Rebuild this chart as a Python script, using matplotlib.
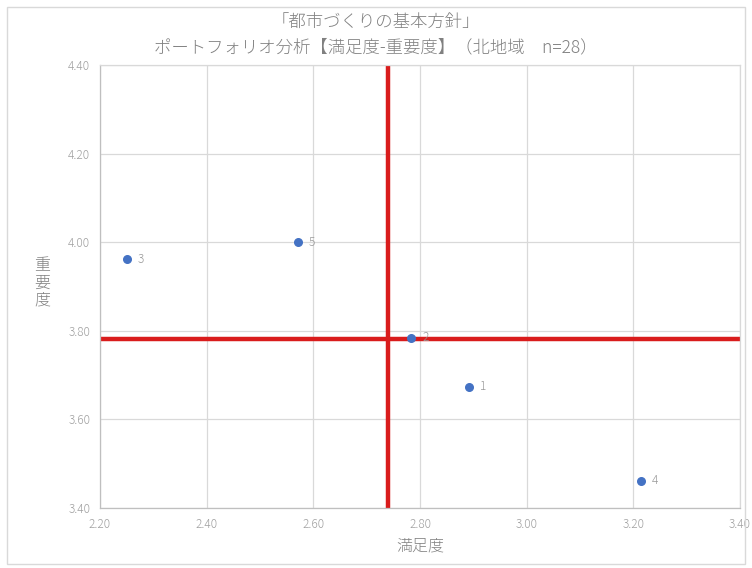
import matplotlib.pyplot as plt
from matplotlib.patches import Rectangle

plt.rcParams['font.family'] = ['Noto Sans CJK JP', 'DejaVu Sans']

# data
labels = ['1', '2', '3', '4', '5']
satisfaction = [2.892, 2.784, 2.25, 3.214, 2.571]
importance = [3.674, 3.784, 3.961, 3.461, 4.00]
mean_satisfaction = 2.74
mean_importance = 3.781

x_ticks = [2.20, 2.40, 2.60, 2.80, 3.00, 3.20, 3.40]
y_ticks = [3.40, 3.60, 3.80, 4.00, 4.20, 4.40]

title = '「都市づくりの基本方針」\nポートフォリオ分析【満足度-重要度】（北地域　n=28）'

fig = plt.figure(figsize=(7.52, 5.68), dpi=100)
ax = fig.add_axes([100 / 752, 1 - 508 / 568, 640 / 752, 443 / 568])

grid_col = '#d9d9d9'
text_col = '#808080'

ax.scatter(satisfaction, importance, s=30, color='#4472c4', zorder=3)
for lab, x, y in zip(labels, satisfaction, importance):
    ax.annotate(lab, (x, y), xytext=(8, 0), textcoords='offset points',
                va='center', ha='left', fontsize=8.5, color='#999999',
                fontweight='light', zorder=4)

ax.axvline(mean_satisfaction, color='#d91c1c', linewidth=3.2, zorder=2)
ax.axhline(mean_importance, color='#d91c1c', linewidth=3.2, zorder=2)

ax.set_xlim(x_ticks[0], x_ticks[-1])
ax.set_ylim(y_ticks[0], y_ticks[-1])
ax.set_xticks(x_ticks)
ax.set_yticks(y_ticks)
ax.set_xticklabels([f'{v:.2f}' for v in x_ticks], fontweight='light')
ax.set_yticklabels([f'{v:.2f}' for v in y_ticks], fontweight='light')
ax.tick_params(length=0, labelsize=8.5, colors='#a0a0a0', pad=7)
ax.grid(True, color=grid_col, linewidth=0.9)
ax.set_axisbelow(True)
for side, sp in ax.spines.items():
    sp.set_color('#bfbfbf' if side in ('left', 'bottom') else grid_col)
    sp.set_linewidth(0.9)

ax.set_xlabel('満足度', fontsize=11.5, color=text_col, labelpad=5,
              fontweight='light')
fig.text(42 / 752, 1 - 283 / 568, '重\n要\n度', fontsize=11.5, color=text_col,
         ha='center', va='center', linespacing=1.0, fontweight='light')

fig.text(0.5, 1 - 35 / 568, title, fontsize=12.5, color=text_col,
         ha='center', va='center', linespacing=1.5, fontweight='light')

# chart area border
fig.patches.append(Rectangle((7 / 752, 4 / 568), 738 / 752, 557 / 568,
                             transform=fig.transFigure, fill=False,
                             edgecolor='#d9d9d9', linewidth=1))

fig.savefig('out.png', dpi=100)
